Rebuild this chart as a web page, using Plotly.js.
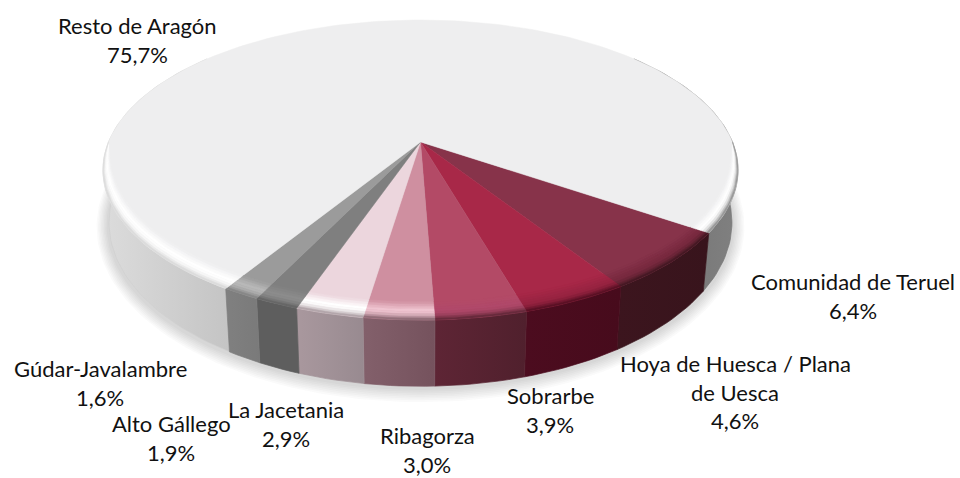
<!DOCTYPE html>
<html><head><meta charset="utf-8">
<script src="https://cdn.plot.ly/plotly-3.0.1.min.js"></script>
<style>html,body{margin:0;padding:0;background:#fff}#c{width:960px;height:478px}</style>
</head><body><div id="c"></div>
<script>
// ---- data (clockwise from the right-hand edge of the coloured group) ----
const categories = ['Comunidad de Teruel','Hoya de Huesca / Plana<br>de Uesca','Sobrarbe','Ribagorza','La Jacetania','Alto Gállego','Gúdar-Javalambre','Resto de Aragón'];
const shares = [6.4,4.6,3.9,3.0,2.9,1.9,1.6,75.7];
const shareLabels = ['6,4%','4,6%','3,9%','3,0%','2,9%','1,9%','1,6%','75,7%'];
// ---- styles ----
const topColors  = ['#87334a','#a82848','#b34a66','#cf8fa0','#ecd6dd','#7f7f7f','#9b9b9b','#eeeeef'];
const rimColors  = ['#7a2a40','#9a2442','#b0496a','#efc4d0','#ffffff','#8c8c8c','#b8b8b8','#ffffff'];
const wallLeft   = ['#3c151e','#4c0c1f','#5e2535','#83606b','#a9989e','#5e5e5e','#808080','#dcdcdc'];
const wallRight  = ['#38141c','#470b1c','#50202d','#75525d','#988a90','#5e5e5e','#7a7a7a','#c4c4c4'];
const restoRightWall = ['#6f6f6f','#808080'];
const labelX = [853,735,550,427,286,171,100,137];
const labelFirstY = [281.5,363.5,395.5,435.5,409.5,423.5,368.5,25.5];
const labelStep = 28.7;
// ---- projection of the disc ----
const cx=420.5, startDeg=55.8, K=-0.1867, deg=Math.PI/180;
const topPlane={b:312,a:144.8,y0:142}, botPlane={b:306,a:158,y0:192};
function pt(pl,t,r){r=r==null?1:r;const u=r*Math.sin(t),v=r*Math.cos(t),w=1+K*v;return [cx+pl.b*u/w,pl.y0+pl.a*v/w];}
function arc(pl,t1,t2,r){const n=Math.max(2,Math.ceil(Math.abs(t2-t1)/(1.5*deg)));const o=[];for(let i=0;i<=n;i++)o.push(pt(pl,t1+(t2-t1)*i/n,r));return o;}
function bevel(t,d){return pt(topPlane,t,1-d*Math.pow(Math.max(Math.cos(t),0),0.7)/178);}
function bevelArc(t1,t2,d){const n=Math.max(2,Math.ceil(Math.abs(t2-t1)/(1.5*deg)));const o=[];for(let i=0;i<=n;i++)o.push(bevel(t1+(t2-t1)*i/n,d));return o;}
function hex(c){return [1,3,5].map(i=>parseInt(c.substr(i,2),16));}
function mix(a,b,s){const A=hex(a),B=hex(b);return '#'+A.map((x,i)=>Math.round(x+(B[i]-x)*s).toString(16).padStart(2,'0')).join('');}
function poly(pts,color,extra){const t={type:'scatter',mode:'lines',x:pts.map(p=>p[0]).concat(pts[0][0]),y:pts.map(p=>p[1]).concat(pts[0][1]),fill:'toself',fillcolor:color,line:{color:color,width:0.5},hoverinfo:'skip',showlegend:false};return Object.assign(t,extra||{});}
function gradPoly(pts,c1,c2){const t=poly(pts,c1);t.fillgradient={type:'horizontal',colorscale:[[0,c1],[1,c2]]};delete t.fillcolor;t.line={width:0.7,color:mix(c1,c2,0.5)};return t;}

const traces=[];
// soft shadow under the pie
for(let i=8;i>=1;i--){const pl={b:botPlane.b+i*1.4+1,a:botPlane.a+i*1.4,y0:botPlane.y0+2};traces.push(poly(arc(pl,0,2*Math.PI),'rgba(90,90,90,0.028)',{line:{width:0,color:'rgba(0,0,0,0)'}}));}
// slice angles from the shares
const total=shares.reduce((a,b)=>a+b,0);
const edges=[startDeg*deg];shares.forEach((s,i)=>edges.push(edges[i]-s/total*2*Math.PI));
// side walls
function wall(t1,t2,c1,c2){const A=arc(topPlane,t1,t2),B=arc(botPlane,t1,t2).reverse();return gradPoly(A.concat(B),c1,c2);}
const iR=7;
traces.push(wall(edges[iR],-130*deg,wallLeft[iR],wallRight[iR]));
traces.push(wall(edges[0],130*deg,restoRightWall[0],restoRightWall[1]));
shares.forEach((s,i)=>{ if(i<7) traces.push(wall(edges[i],edges[i+1],wallLeft[i],wallRight[i])); });
// top surface
shares.forEach((s,i)=>{traces.push(poly([[cx,topPlane.y0]].concat(arc(topPlane,edges[i],edges[i+1])),topColors[i]));});
// bevel strips
const stops=[15,13,11,9,7,5,3,1.5,0];
function strips(t1,t2,i,wc){
  for(let j=0;j<stops.length-1;j++){
    const m=(stops[j]+stops[j+1])/2;
    const col = m>8 ? mix(topColors[i],rimColors[i],(15-m)/7) : mix(rimColors[i],wc,Math.pow((8-m)/8,2.2));
    traces.push(poly(bevelArc(t1,t2,stops[j]).concat(bevelArc(t1,t2,stops[j+1]).reverse()),col));
  }
}
shares.forEach((s,i)=>{ if(i<7) strips(edges[i],edges[i+1],i,mix(wallLeft[i],wallRight[i],0.5)); });
strips(edges[iR],-90*deg,iR,'#d4d4d4');
strips(edges[0],90*deg,iR,'#808080');

// labels
const annotations=[];
categories.forEach((c,i)=>{
  const lines=c.split('<br>').concat(shareLabels[i]);
  lines.forEach((t,j)=>annotations.push({x:labelX[i],y:labelFirstY[i]+j*labelStep,xref:'x',yref:'y',text:t,showarrow:false,xanchor:'center',yanchor:'middle',font:{family:'Lato, "Open Sans", sans-serif',size:22,color:'#111'}}));
});
Plotly.newPlot('c',traces,{
  width:960,height:478,margin:{l:0,r:0,t:0,b:0},paper_bgcolor:'#fff',plot_bgcolor:'#fff',showlegend:false,
  xaxis:{visible:false,range:[0,960],fixedrange:true},
  yaxis:{visible:false,range:[478,0],fixedrange:true},
  annotations:annotations
},{staticPlot:true,displayModeBar:false});
</script></body></html>
